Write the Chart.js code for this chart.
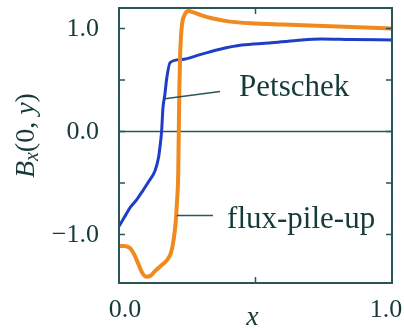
<!DOCTYPE html>
<html>
<head>
<meta charset="utf-8">
<script src="https://cdn.jsdelivr.net/npm/chart.js@4"></script>
<style>
  html, body { margin: 0; padding: 0; background: #fff; }
  canvas { display: block; }
</style>
</head>
<body>
<canvas id="bx" width="404" height="332"></canvas>
<script>
// Petschek profile
const petschekX = [0.0, 0.02, 0.04, 0.065, 0.088, 0.11, 0.132, 0.145, 0.15, 0.156, 0.161, 0.168, 0.175, 0.187, 0.23, 0.3, 0.37, 0.45, 0.55, 0.65, 0.74, 0.85, 1.0];
const petschekY = [-0.92, -0.83, -0.74, -0.66, -0.57, -0.48, -0.38, -0.25, -0.15, 0.0, 0.23, 0.36, 0.52, 0.67, 0.70, 0.75, 0.80, 0.84, 0.86, 0.885, 0.90, 0.895, 0.89];

// flux-pile-up profile
const pileupX = [0.0, 0.02, 0.04, 0.055, 0.07, 0.085, 0.1, 0.115, 0.13, 0.155, 0.175, 0.19, 0.2, 0.207, 0.212, 0.217, 0.219, 0.221, 0.224, 0.23, 0.24, 0.255, 0.27, 0.3, 0.34, 0.4, 0.5, 0.6, 0.7, 0.8, 0.9, 1.0];
const pileupY = [-1.11, -1.11, -1.13, -1.19, -1.28, -1.37, -1.41, -1.40, -1.36, -1.30, -1.25, -1.18, -1.05, -0.9, -0.7, -0.4, 0.0, 0.4, 0.75, 1.02, 1.13, 1.17, 1.16, 1.13, 1.10, 1.07, 1.05, 1.04, 1.03, 1.02, 1.01, 1.00];

const yTicks = [1.0, 0.5, 0.0, -0.5, -1.0];
const yTickLabels = ["1.0", "", "0.0", "", "\u22121.0"];
const xTicks = [0.0, 0.5, 1.0];
const xTickLabels = ["0.0", "", "1.0"];

const toPoints = (xs, ys) => xs.map((x, i) => ({ x: x, y: ys[i] }));

const AXIS = "#2a5656";
const INK = "#163a3a";
const SERIF = "'Liberation Serif', 'DejaVu Serif', serif";

// frame, inward ticks, zero line, labels
const framePlugin = {
  id: "frame",
  beforeDatasetsDraw(chart) {
    const { ctx, chartArea: a, scales: { y } } = chart;
    ctx.save();
    ctx.strokeStyle = AXIS;
    ctx.lineWidth = 1.5;
    ctx.beginPath();
    ctx.moveTo(a.left, y.getPixelForValue(0));
    ctx.lineTo(a.right, y.getPixelForValue(0));
    ctx.stroke();
    ctx.restore();
  },
  afterDraw(chart) {
    const { ctx, chartArea: a, scales: { x, y } } = chart;
    ctx.save();
    ctx.strokeStyle = AXIS;
    ctx.lineWidth = 2;
    ctx.strokeRect(a.left, a.top, a.right - a.left, a.bottom - a.top);

    ctx.lineWidth = 1.5;
    ctx.beginPath();
    yTicks.forEach(v => {
      const py = y.getPixelForValue(v);
      ctx.moveTo(a.left, py); ctx.lineTo(a.left + 6, py);
      ctx.moveTo(a.right, py); ctx.lineTo(a.right - 6, py);
    });
    xTicks.forEach(v => {
      const px = x.getPixelForValue(v);
      ctx.moveTo(px, a.bottom); ctx.lineTo(px, a.bottom - 6);
      ctx.moveTo(px, a.top); ctx.lineTo(px, a.top + 6);
    });
    ctx.stroke();

    // tick labels
    ctx.fillStyle = INK;
    ctx.font = "26px " + SERIF;
    ctx.textAlign = "right";
    ctx.textBaseline = "middle";
    yTicks.forEach((v, i) => {
      if (yTickLabels[i]) ctx.fillText(yTickLabels[i], a.left - 20, y.getPixelForValue(v) + 1);
    });
    ctx.textAlign = "center";
    xTicks.forEach((v, i) => {
      if (!xTickLabels[i]) return;
      const shift = i === 0 ? 6 : (i === xTicks.length - 1 ? -6 : 0);
      ctx.fillText(xTickLabels[i], x.getPixelForValue(v) + shift, a.bottom + 27);
    });

    // x title
    ctx.font = "italic 28px " + SERIF;
    ctx.fillText("x", x.getPixelForValue(0.5) - 3, a.bottom + 35);

    // y title, rotated: B_x(0, y)
    ctx.save();
    ctx.translate(27, y.getPixelForValue(0) + 4);
    ctx.rotate(-Math.PI / 2);
    ctx.textAlign = "left";
    ctx.textBaseline = "middle";
    const parts = [
      ["italic 28px ", "B", 0],
      ["italic 20px ", "x", 6],
      ["28px ", "(0, ", 0],
      ["italic 28px ", "y", 0],
      ["28px ", ")", 0]
    ];
    let total = 0;
    parts.forEach(p => { ctx.font = p[0] + SERIF; total += ctx.measureText(p[1]).width; });
    let cx = -total / 2;
    parts.forEach(p => {
      ctx.font = p[0] + SERIF;
      ctx.fillText(p[1], cx, p[2]);
      cx += ctx.measureText(p[1]).width;
    });
    ctx.restore();

    // curve labels with leader lines
    ctx.strokeStyle = AXIS;
    ctx.lineWidth = 1.5;
    ctx.beginPath();
    ctx.moveTo(x.getPixelForValue(0.168), y.getPixelForValue(0.32));
    ctx.lineTo(x.getPixelForValue(0.37), y.getPixelForValue(0.39));
    ctx.moveTo(x.getPixelForValue(0.212), y.getPixelForValue(-0.815));
    ctx.lineTo(x.getPixelForValue(0.344), y.getPixelForValue(-0.815));
    ctx.stroke();

    ctx.font = "31px " + SERIF;
    ctx.textAlign = "left";
    ctx.textBaseline = "middle";
    ctx.fillStyle = INK;
    ctx.fillText("Petschek", x.getPixelForValue(0.44), y.getPixelForValue(0.42));
    ctx.fillText("flux-pile-up", x.getPixelForValue(0.396), y.getPixelForValue(-0.855));
    ctx.restore();
  }
};

new Chart(document.getElementById("bx"), {
  type: "line",
  data: {
    datasets: [
      {
        label: "flux-pile-up",
        data: toPoints(pileupX, pileupY),
        borderColor: "#f08a1e",
        borderWidth: 4,
        pointRadius: 0,
        cubicInterpolationMode: "monotone"
      },
      {
        label: "Petschek",
        data: toPoints(petschekX, petschekY),
        borderColor: "#1f3ec8",
        borderWidth: 3,
        pointRadius: 0,
        cubicInterpolationMode: "monotone"
      }
    ]
  },
  options: {
    responsive: false,
    animation: false,
    layout: { padding: { left: 119, right: 12, top: 8, bottom: 49 } },
    plugins: { legend: { display: false }, tooltip: { enabled: false } },
    scales: {
      x: { type: "linear", min: 0, max: 1, display: false },
      y: { type: "linear", min: -1.47, max: 1.2, display: false }
    }
  },
  plugins: [framePlugin]
});
</script>
</body>
</html>
